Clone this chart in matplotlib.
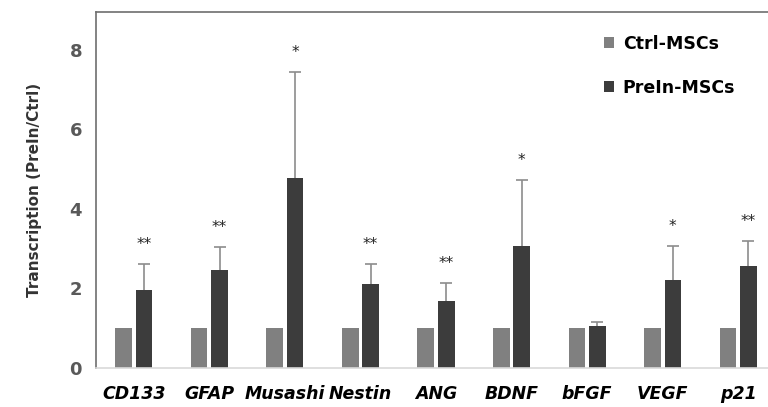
import matplotlib
matplotlib.use("Agg")
import matplotlib.pyplot as plt
import numpy as np

categories = ["CD133", "GFAP", "Musashi", "Nestin", "ANG", "BDNF", "bFGF", "VEGF", "p21"]
ctrl = [1, 1, 1, 1, 1, 1, 1, 1, 1]
preln = [1.96, 2.47, 4.78, 2.11, 1.69, 3.07, 1.05, 2.21, 2.57]
preln_err = [0.66, 0.57, 2.67, 0.51, 0.45, 1.66, 0.10, 0.86, 0.62]
stars = ["**", "**", "*", "**", "**", "*", "", "*", "**"]
yticks = [0, 2, 4, 6, 8]

fig = plt.figure(figsize=(7.68, 4.07), dpi=100)
ax = fig.add_axes([96/768, 39/407, (776-96)/768, 356/407])

x = np.arange(len(categories))
off = 0.135
w = 0.22
ax.bar(x - off, ctrl, w, color="#808080", label="Ctrl-MSCs", zorder=2)
ax.bar(x + off, preln, w, color="#3c3c3c", label="PreIn-MSCs", zorder=2)
tops = np.array(preln) + np.array(preln_err)
ax.vlines(x + off, preln, tops, color="#8c8c8c", linewidth=1.2, zorder=1)
ax.plot(x + off, tops, linestyle="none", marker="_", markersize=8,
        markeredgewidth=1.2, color="#8c8c8c", zorder=3)
for xi, t, s in zip(x, tops, stars):
    if s:
        ax.text(xi + off, t + 0.3, s, ha="center", va="bottom", fontsize=11,
                color="#222222")

ax.set_xlim(-0.5, 8.5)
ax.set_ylim(0, 8.95)
ax.set_yticks(yticks)
ax.set_yticklabels([str(t) for t in yticks], fontsize=13, fontweight="bold", color="#595959")
ax.set_xticks(x)
ax.set_xticklabels(categories, fontsize=12.5, fontweight="bold", fontstyle="italic", color="black")
ax.tick_params(axis="both", length=0, pad=10)
ax.tick_params(axis="x", pad=12)
ax.set_ylabel("Transcription (PreIn/Ctrl)", fontsize=11, fontweight="bold", color="#333333", labelpad=20)

ax.spines["left"].set_color("#6e6e6e")
ax.spines["top"].set_color("#6e6e6e")
ax.spines["bottom"].set_color("#d9d9d9")
ax.spines["right"].set_visible(False)
for sp in ax.spines.values():
    sp.set_linewidth(1.2)

leg = ax.legend(loc="upper left", bbox_to_anchor=((588-96)/680, 0.98), frameon=False,
                prop={"size": 12.5, "weight": "bold"}, handlelength=0.6, handleheight=0.6,
                handletextpad=0.5, labelspacing=1.5)

fig.savefig("out.png", dpi=100)
